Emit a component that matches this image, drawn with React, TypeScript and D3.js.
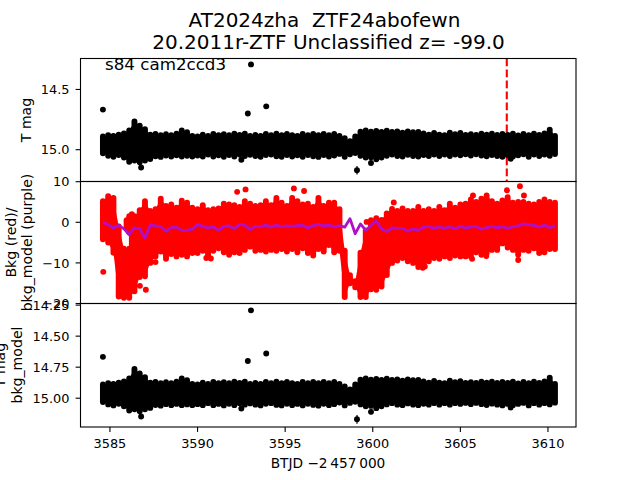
import React from "react";
import * as d3 from "d3";

const W = 640, H = 480;
const FONT = "'DejaVu Sans', sans-serif";

// Grid of times at which the point cloud's envelopes were read (BTJD - 2457000)
const envelopeTimes = [
  3584.6,3584.9,3585.2,3585.5,3585.8,3586.1,3586.4,3586.7,3587.0,3587.3,3587.6,3587.9,3588.2,3588.5,3588.8,
  3589.1,3589.4,3589.7,3590.0,3590.3,3590.6,3590.9,3591.2,3591.5,3591.8,3592.1,3592.4,3592.7,3593.0,3593.3,
  3593.6,3593.9,3594.2,3594.5,3594.8,3595.1,3595.4,3595.7,3596.0,3596.3,3596.6,3596.9,3597.2,3597.5,3597.8,
  3598.1,3598.4,3598.7,3599.0,3599.3,3599.6,3599.9,3600.2,3600.5,3600.8,3601.1,3601.4,3601.7,3602.0,3602.3,
  3602.6,3602.9,3603.2,3603.5,3603.8,3604.1,3604.4,3604.7,3605.0,3605.3,3605.6,3605.9,3606.2,3606.5,3606.8,
  3607.1,3607.4,3607.7,3608.0,3608.3,3608.6,3608.9,3609.2,3609.5,3609.8,3610.1,3610.4,
];

// Bright and faint edges of the T mag cloud
const magBright = [
  14.89,14.88,14.885,14.875,14.865,14.84,14.765,14.80,14.83,14.875,14.87,14.88,14.872,14.88,14.868,
  14.84,14.855,14.885,14.89,14.875,14.885,14.87,14.88,14.872,14.88,14.868,14.878,14.868,14.885,14.878,
  14.885,14.87,14.88,14.868,14.88,14.87,14.88,14.885,14.87,14.88,14.87,14.88,14.87,14.88,14.87,
  14.885,14.905,14.93,14.89,14.85,14.84,14.85,14.845,14.852,14.842,14.852,14.848,14.858,14.848,14.855,
  14.852,14.865,14.875,14.86,14.875,14.88,14.858,14.872,14.862,14.878,14.872,14.878,14.868,14.876,14.868,
  14.878,14.87,14.878,14.868,14.882,14.87,14.88,14.868,14.878,14.865,14.835,14.885,
];
const magFaint = [
  15.03,15.05,15.058,15.045,15.065,15.10,15.09,15.105,15.09,15.078,15.055,15.06,15.048,15.056,15.046,
  15.056,15.05,15.056,15.048,15.056,15.04,15.056,15.046,15.058,15.045,15.056,15.04,15.052,15.042,15.052,
  15.058,15.045,15.04,15.054,15.058,15.045,15.056,15.046,15.058,15.045,15.054,15.06,15.045,15.056,15.048,
  15.035,15.058,15.038,15.028,15.05,15.065,15.062,15.08,15.065,15.05,15.04,15.052,15.056,15.042,15.052,
  15.056,15.045,15.052,15.04,15.052,15.04,15.052,15.04,15.046,15.038,15.048,15.038,15.048,15.055,15.044,
  15.052,15.058,15.046,15.056,15.046,15.038,15.058,15.04,15.052,15.04,15.05,15.036,
];

// Isolated T mag points: time, mag, error
const magOutT = [3584.6, 3592.87, 3593.05, 3593.92, 3586.78, 3592.5, 3599.1, 3599.9, 3607.87];
const magOutV = [14.667, 14.70, 14.292, 14.64, 15.148, 15.083, 15.17, 15.11, 15.075];
const magOutE = [0, 0, 0, 0, 0.02, 0, 0.035, 0.02, 0];

// Background cloud edges
const bkgHigh = [
  5.2,6.4,6.0,-1.0,-6.5,-6.5,1.5,3.0,5.2,2.8,3.2,5.8,4.0,4.4,3.6,
  5.3,4.8,3.6,3.2,4.2,3.0,3.2,3.4,4.6,4.4,4.2,3.8,5.2,4.6,4.0,
  4.2,5.2,4.2,6.0,4.8,4.0,6.0,5.2,4.4,4.6,3.8,6.0,4.0,4.8,4.8,
  3.2,-7,-13,-14.5,-7.5,-2,0.5,1.0,0.6,2.2,3.3,2.8,3.4,2.8,2.8,
  3.8,2.8,3.2,2.8,3.8,3.0,4.6,3.6,4.4,4.6,5.6,5.0,5.8,6.6,5.2,
  4.6,5.4,6.2,4.8,5.0,5.0,4.6,4.4,5.0,5.6,5.0,4.8,
];
const bkgLow = [
  -4.2,-5.0,-7.5,-18.3,-18.6,-18.6,-17.0,-13.5,-13.3,-10,-8.4,-7.2,-9.0,-7.8,-8.4,
  -8.0,-8.4,-7.6,-7.6,-7.0,-8.2,-7.0,-6.4,-7.4,-8.0,-7.4,-7.6,-6.8,-6.0,-7.0,
  -6.8,-7.2,-6.8,-7.0,-6.6,-7.2,-6.6,-7.4,-6.4,-7.6,-8.2,-6.6,-7.2,-5.6,-7.4,
  -7.0,-18.4,-15,-16,-18.4,-18.4,-16.5,-16.6,-15.8,-13,-10,-9.4,-8.8,-9.6,-10,
  -11,-10.8,-9.6,-8.8,-9.0,-8.4,-8.8,-8.2,-8.4,-8.4,-8.4,-7.4,-8.0,-7.6,-6.8,
  -6.8,-5.2,-6.2,-6.8,-8.0,-6.8,-7.0,-6.4,-7.6,-7.4,-6.6,-6.6,
];

// Patch of the background cloud above the white notch near 3586
const bkgPatchT = [3585.95, 3586.1, 3586.25];
const bkgPatchHigh = [0.5, 1.5, 2.0];
const bkgPatchLow = [-1.5, -2.5, -5.5];

// Isolated background points
const bkgOutT = [3584.62, 3586.71, 3587.05, 3587.6, 3590.5, 3590.76, 3592.26, 3592.74, 3595.5, 3596.08, 3601.2, 3602.85, 3602.97, 3605.67, 3605.72, 3606.48, 3607.66, 3608.3, 3608.4, 3608.63, 3599.65];
const bkgOutV = [-12.2, -15.65, -16.6, -9.8, -8.8, -8.9, 7.5, 8.1, 8.35, 7.7, 4.9, -11.2, -10.9, -9, 6.6, -8.3, 7.9, -9.3, 8.9, 6.6, 0.1];

// Background model (purple)
const bkgModel = [
  0.0,-0.6,-1.4,-0.7,-1.6,-3.0,-1.4,-1.6,-3.9,-0.6,-0.9,-1.1,-2.2,-1.3,-1.2,
  -2.0,-2.0,-1.7,-0.5,-1.0,-1.4,-1.1,-2.0,-1.0,-0.9,-1.6,-0.5,-0.7,-1.8,-1.0,
  -1.1,-0.7,-1.2,-0.7,-1.1,-0.9,-1.0,-0.8,-0.7,-1.4,-0.8,-0.5,-0.9,-0.7,-1.1,
  -0.8,-1.2,0.9,-2.8,-0.4,-2.0,-0.8,0.4,-1.6,-2.3,-1.4,-1.5,-1.5,-2.2,-1.6,
  -2.0,-1.2,-1.0,-1.5,-1.1,-1.5,-1.1,-1.6,-1.0,-1.4,-1.2,-1.0,-1.7,-1.3,-1.0,
  -1.3,-1.1,-1.5,-1.1,-0.9,-0.4,-0.6,-0.7,-1.2,-0.7,-1.3,-0.9,
];

const xTicks = [3585, 3590, 3595, 3600, 3605, 3610];
const magTicks = [14.5, 15.0];
const bkgTicks = [10, 0, -10, -20];
const resTicks = [14.25, 14.5, 14.75, 15.0];
const markerTime = 3607.65;

const LEFT = 80.5, RIGHT = 576;
const P1 = [58.5, 181.5], P2 = [181.5, 303.5], P3 = [303.5, 427];
const R = 2.95;
const TICK_FS = 12.9;
const LABEL_FS = 14.1;

const x = d3.scaleLinear().domain([3583.32, 3611.6]).range([LEFT, RIGHT]);
const yMag = d3.scaleLinear().domain([14.243, 15.264]).range([P1[0], P1[1]]);
const yBkg = d3.scaleLinear().domain([10.05, -20]).range([P2[0], P2[1]]);
const yRes = d3.scaleLinear().domain([14.237, 15.232]).range([P3[0], P3[1]]);

function Cloud({ t, hi, lo, y, color }: any) {
  const area = d3.area<number>().x((_, i) => x(t[i])).y0((_, i) => y(hi[i])).y1((_, i) => y(lo[i]));
  return (
    <g>
      <path d={area(t) as string} fill={color} />
      {t.map((v: number, i: number) => (
        <line key={i} x1={x(v)} x2={x(v)} y1={y(hi[i])} y2={y(lo[i])} stroke={color} strokeWidth={R * 2} strokeLinecap="round" />
      ))}
    </g>
  );
}

function MagPanel({ y }: any) {
  return (
    <g>
      <Cloud t={envelopeTimes} hi={magBright} lo={magFaint} y={y} color="#000" />
      {magOutT.map((t, i) => (
        <g key={i}>
          {magOutE[i] > 0 && <line x1={x(t)} x2={x(t)} y1={y(magOutV[i] - magOutE[i])} y2={y(magOutV[i] + magOutE[i])} stroke="#000" strokeWidth={1.2} />}
          <circle cx={x(t)} cy={y(magOutV[i])} r={R} fill="#000" />
        </g>
      ))}
    </g>
  );
}

function Frame({ top, bottom }: { top: number; bottom: number }) {
  return <rect x={LEFT} y={top} width={RIGHT - LEFT} height={bottom - top} fill="none" stroke="#000" strokeWidth={1.1} />;
}

function YTicks({ ticks, y, fmt }: any) {
  return (
    <g>
      {ticks.map((t: number) => (
        <g key={t}>
          <line x1={LEFT - 4.9} x2={LEFT} y1={y(t)} y2={y(t)} stroke="#000" strokeWidth={1.1} />
          <text x={LEFT - 11} y={y(t)} dy="0.36em" textAnchor="end" fontSize={TICK_FS} fontFamily={FONT} fill="#000">{fmt(t)}</text>
        </g>
      ))}
    </g>
  );
}

function VLabel({ lines, xs, cy }: { lines: string[]; xs: number[]; cy: number }) {
  return (
    <g>
      {lines.map((s, i) => (
        <text key={s} transform={`translate(${xs[i]},${cy}) rotate(-90)`} textAnchor="middle" fontSize={LABEL_FS} fontFamily={FONT} fill="#000">{s}</text>
      ))}
    </g>
  );
}

export default function App() {
  const modelLine = d3.line<number>().x((_, i) => x(envelopeTimes[i])).y((d) => yBkg(d));
  const minusFmt = (t: number) => String(t).replace("-", "\u2212");
  return (
    <svg width={W} height={H} viewBox={`0 0 ${W} ${H}`} style={{ position: "absolute", left: 0, top: 0, background: "#fff" }}>
      {/* panel 1 */}
      <line x1={x(markerTime)} x2={x(markerTime)} y1={P1[0]} y2={P1[1]} stroke="#ff0000" strokeWidth={2.1} strokeDasharray="7.7 3.3" />
      <MagPanel y={yMag} />
      <text x={105} y={70} fontSize={16.7} fontFamily={FONT} fill="#000">s84 cam2ccd3</text>

      {/* panel 2 */}
      <Cloud t={envelopeTimes} hi={bkgHigh} lo={bkgLow} y={yBkg} color="#ff0000" />
      <Cloud t={bkgPatchT} hi={bkgPatchHigh} lo={bkgPatchLow} y={yBkg} color="#ff0000" />
      {bkgOutT.map((t, i) => (
        <circle key={i} cx={x(t)} cy={yBkg(bkgOutV[i])} r={R} fill="#ff0000" />
      ))}
      <path d={modelLine(bkgModel) as string} fill="none" stroke="#b00fc8" strokeWidth={2.8} strokeLinejoin="round" />

      {/* panel 3 */}
      <MagPanel y={yRes} />

      <Frame top={P1[0]} bottom={P1[1]} />
      <Frame top={P2[0]} bottom={P2[1]} />
      <Frame top={P3[0]} bottom={P3[1]} />

      <YTicks ticks={magTicks} y={yMag} fmt={(t: number) => t.toFixed(1)} />
      <YTicks ticks={bkgTicks} y={yBkg} fmt={minusFmt} />
      <YTicks ticks={resTicks} y={yRes} fmt={(t: number) => t.toFixed(2)} />

      {xTicks.map((t) => (
        <g key={t}>
          <line x1={x(t)} x2={x(t)} y1={P3[1]} y2={P3[1] + 4.9} stroke="#000" strokeWidth={1.1} />
          <text x={x(t)} y={P3[1] + 21} textAnchor="middle" fontSize={TICK_FS} fontFamily={FONT} fill="#000">{t}</text>
        </g>
      ))}

      <VLabel lines={["T mag"]} xs={[31]} cy={120} />
      <VLabel lines={["Bkg (red)/", "bkg_model (purple)"]} xs={[16, 32]} cy={242.5} />
      <VLabel lines={["T mag", "bkg_model"]} xs={[5, 22]} cy={365} />

      <text x={328} y={468} textAnchor="middle" fontSize={13.7} fontFamily={FONT} fill="#000">BTJD {"\u2212"}2{"\u2009"}457{"\u2009"}000</text>

      <text x={324.5} y={27} textAnchor="middle" fontSize={20} fontFamily={FONT} fill="#000" style={{ whiteSpace: "pre" }}>AT2024zha  ZTF24abofewn</text>
      <text x={328.5} y={49} textAnchor="middle" fontSize={20} fontFamily={FONT} fill="#000">20.2011r-ZTF Unclassified z= -99.0</text>
    </svg>
  );
}
